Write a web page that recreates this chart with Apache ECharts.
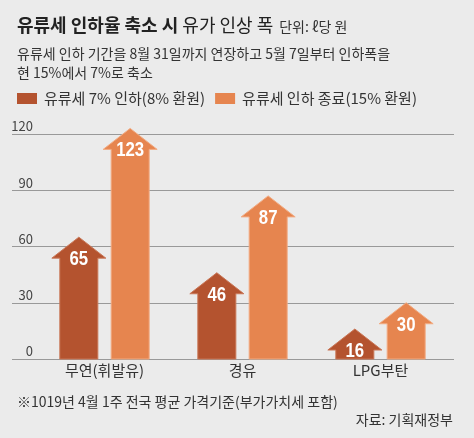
<!DOCTYPE html>
<html>
<head>
<meta charset="utf-8">
<script src="https://cdn.jsdelivr.net/npm/echarts@6/dist/echarts.min.js"></script>
<style>
html,body{margin:0;padding:0;background:#ebebeb;}
#c{width:474px;height:438px;}
</style>
</head>
<body>
<div id="c"></div>
<script>
var categories = ['무연(휘발유)', '경유', 'LPG부탄'];
var cut7 = [65, 46, 16];
var end15 = [123, 87, 30];
var seriesNames = ['유류세 7% 인하(8% 환원)', '유류세 인하 종료(15% 환원)'];
var yMin = 0, yMax = 120, yInterval = 30;

var FONT = '"Noto Sans CJK KR", "Noto Sans", sans-serif';
var chart = echarts.init(document.getElementById('c'), null, {renderer: 'canvas'});

function arrowRenderer(offsetRatio, fill, stroke) {
  return function (params, api) {
    var cat = api.value(0), val = api.value(1);
    var band = api.size([1, 0])[0];
    var base = api.coord([cat, 0]);
    var top = api.coord([cat, val]);
    var cx = top[0] + band * offsetRatio;
    var bw = 19, hw = 27, hh = 21;
    var ty = top[1];
    return {
      type: 'group',
      children: [{
        type: 'polygon',
        shape: {points: [
          [cx - bw, base[1]], [cx - bw, ty + hh], [cx - hw, ty + hh], [cx, ty],
          [cx + hw, ty + hh], [cx + bw, ty + hh], [cx + bw, base[1]]
        ]},
        style: {fill: fill, stroke: stroke, lineWidth: 1}
      }, {
        type: 'text',
        x: cx, y: ty + 22,
        scaleX: 0.8,
        style: {
          text: String(val), fill: '#fff', align: 'center', verticalAlign: 'middle',
          font: 'bold 21px "Liberation Sans", Arial, sans-serif'
        }
      }]
    };
  };
}

var option = {
  backgroundColor: '#ebebeb',
  animation: false,
  textStyle: {fontFamily: FONT},
  title: [{
    left: 12, top: 11,
    text: '{b|유류세 인하율 축소 시} {r|유가 인상 폭} {s|단위: ℓ당 원}',
    textStyle: {
      fontWeight: 'normal',
      rich: {
        b: {fontSize: 18, fontWeight: 'bold', color: '#222', fontFamily: FONT},
        r: {fontSize: 18, fontWeight: 'normal', color: '#222', fontFamily: FONT},
        s: {fontSize: 14, fontWeight: 'normal', color: '#333', fontFamily: FONT, padding: [3, 0, 0, 2]}
      }
    }
  }, {
    left: 12, top: 39,
    text: '유류세 인하 기간을 8월 31일까지 연장하고 5월 7일부터 인하폭을\n현 15%에서 7%로 축소',
    textStyle: {fontSize: 14, color: '#333', fontWeight: 'normal', lineHeight: 19, fontFamily: FONT}
  }, {
    left: 12, top: 390,
    text: '※1019년 4월 1주 전국 평균 가격기준(부가가치세 포함)',
    textStyle: {fontSize: 14, color: '#333', fontWeight: 'normal', fontFamily: FONT}
  }, {
    right: 16, top: 408,
    text: '자료: 기획재정부',
    textStyle: {fontSize: 14, color: '#333', fontWeight: 'normal', fontFamily: FONT}
  }],
  legend: {
    left: 12, top: 86,
    itemWidth: 20, itemHeight: 11, itemGap: 10,
    icon: 'rect',
    data: seriesNames,
    textStyle: {fontSize: 15, color: '#333', fontFamily: FONT, padding: [0, 0, 0, 2]}
  },
  grid: [
    {left: 35.5, right: 24.5, top: 134, bottom: 79},
    {left: 12, right: 20, top: 134, bottom: 79}
  ],
  xAxis: [{
    gridIndex: 0, type: 'category', data: categories,
    axisLine: {show: false}, axisTick: {show: false},
    axisLabel: {fontSize: 15, color: '#333', margin: 4, fontFamily: FONT}
  }, {
    gridIndex: 1, type: 'value', min: 0, max: 1, show: false
  }],
  yAxis: [{
    gridIndex: 0, type: 'value', min: yMin, max: yMax, interval: yInterval,
    show: false
  }, {
    gridIndex: 1, type: 'value', min: yMin, max: yMax, interval: yInterval,
    axisLine: {show: false}, axisTick: {show: false},
    axisLabel: {inside: true, align: 'right', verticalAlign: 'bottom', margin: 21,
      fontSize: 13, color: '#444', padding: [0, 0, 1, 0], fontFamily: FONT},
    splitLine: {show: true, lineStyle: {color: '#999999', type: 'solid', width: 1}}
  }],
  series: [{
    name: seriesNames[0], type: 'custom', xAxisIndex: 0, yAxisIndex: 0,
    itemStyle: {color: '#b4532f'},
    clip: false, z: 5,
    renderItem: arrowRenderer(-0.186, '#b4532f', '#c97656'),
    data: categories.map(function (c, i) { return [i, cut7[i]]; })
  }, {
    name: seriesNames[1], type: 'custom', xAxisIndex: 0, yAxisIndex: 0,
    itemStyle: {color: '#e6854f'},
    clip: false, z: 5,
    renderItem: arrowRenderer(0.186, '#e6854f', '#f2ab82'),
    data: categories.map(function (c, i) { return [i, end15[i]]; })
  }]
};
chart.setOption(option);
</script>
</body>
</html>
